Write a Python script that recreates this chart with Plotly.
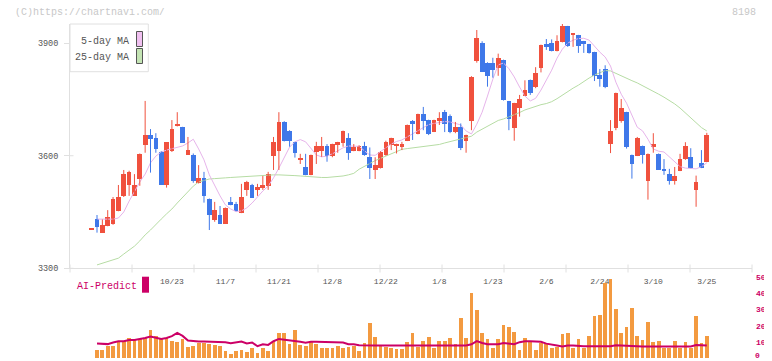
import plotly.graph_objects as go

# ---------------- data ----------------
date_labels = ["10/23", "11/7", "11/21", "12/8", "12/22", "1/8", "1/23", "2/6", "2/24", "3/10", "3/25"]
label_index = [15, 25, 35, 45, 55, 65, 75, 85, 95, 105, 115]
price_ticks = [3300, 3600, 3900]
volume_ticks = [10, 20, 30, 40, 50]
volume_zero_label = "0"

opens = [
    3403, 3431, 3395, 3414, 3418, 3453, 3493, 3523, 3493, 3538,
    3628, 3655, 3646, 3610, 3523, 3613, 3681, 3676, 3603, 3603,
    3528, 3540, 3485, 3430, 3442, 3419, 3477, 3471, 3448, 3509,
    3522, 3509, 3515, 3520, 3600, 3613, 3690, 3666, 3636, 3589,
    3570, 3549, 3609, 3613, 3626, 3600, 3628, 3635, 3647, 3613,
    3613, 3626, 3597, 3562, 3568, 3602, 3628, 3628, 3623, 3640,
    3692, 3658, 3711, 3695, 3664, 3692, 3716, 3705, 3664, 3677,
    3640, 3693, 3853, 3900, 3848, 3848, 3834, 3855, 3745, 3675,
    3728, 3760, 3802, 3784, 3834, 3897, 3900, 3879, 3903, 3945,
    3922, 3921, 3905, 3897, 3876, 3815, 3831, 3631, 3674, 3693,
    3716, 3602, 3600, 3626, 3533, 3623, 3605, 3565, 3552, 3533,
    3560, 3590, 3597, 3509, 3581, 3584,
]
highs = [
    3406, 3442, 3430, 3455, 3490, 3522, 3562, 3560, 3551, 3606,
    3746, 3671, 3660, 3612, 3636, 3695, 3716, 3677, 3650, 3606,
    3575, 3557, 3486, 3477, 3466, 3462, 3490, 3477, 3525, 3533,
    3525, 3525, 3546, 3557, 3650, 3716, 3692, 3668, 3637, 3605,
    3605, 3603, 3637, 3650, 3631, 3632, 3637, 3667, 3660, 3631,
    3628, 3637, 3622, 3596, 3612, 3640, 3648, 3632, 3637, 3683,
    3695, 3712, 3730, 3696, 3696, 3716, 3722, 3710, 3690, 3686,
    3656, 3812, 3935, 3905, 3849, 3861, 3872, 3856, 3746, 3741,
    3762, 3801, 3803, 3836, 3896, 3911, 3910, 3921, 3951, 3946,
    3927, 3922, 3906, 3898, 3877, 3831, 3841, 3695, 3768, 3751,
    3717, 3603, 3650, 3627, 3606, 3660, 3606, 3591, 3565, 3570,
    3605, 3636, 3620, 3547, 3615, 3661,
]
lows = [
    3403, 3395, 3395, 3412, 3416, 3452, 3490, 3493, 3493, 3520,
    3608, 3555, 3608, 3523, 3515, 3610, 3678, 3635, 3602, 3528,
    3526, 3475, 3402, 3424, 3418, 3418, 3468, 3452, 3447, 3493,
    3488, 3493, 3509, 3509, 3562, 3562, 3638, 3624, 3595, 3578,
    3548, 3548, 3578, 3597, 3584, 3596, 3608, 3624, 3589, 3612,
    3612, 3600, 3538, 3538, 3566, 3600, 3615, 3606, 3615, 3639,
    3642, 3657, 3668, 3655, 3663, 3682, 3663, 3660, 3660, 3615,
    3608, 3668, 3848, 3823, 3784, 3808, 3813, 3747, 3668, 3640,
    3704, 3759, 3762, 3780, 3822, 3882, 3878, 3878, 3902, 3890,
    3890, 3874, 3874, 3872, 3799, 3784, 3780, 3607, 3668, 3688,
    3619, 3539, 3599, 3579, 3483, 3608, 3562, 3549, 3523, 3523,
    3559, 3589, 3567, 3464, 3567, 3583,
]
closes = [
    3406, 3409, 3415, 3437, 3485, 3490, 3551, 3557, 3522, 3604,
    3655, 3645, 3618, 3523, 3636, 3671, 3684, 3635, 3615, 3533,
    3540, 3493, 3443, 3455, 3419, 3461, 3470, 3453, 3490, 3530,
    3488, 3517, 3522, 3551, 3637, 3690, 3640, 3640, 3607, 3592,
    3549, 3602, 3626, 3626, 3600, 3631, 3636, 3666, 3608, 3624,
    3626, 3602, 3568, 3575, 3610, 3636, 3647, 3631, 3631, 3682,
    3685, 3711, 3692, 3658, 3695, 3700, 3685, 3664, 3676, 3620,
    3655, 3810, 3915, 3824, 3813, 3828, 3860, 3748, 3698, 3740,
    3751, 3775, 3768, 3820, 3895, 3890, 3879, 3905, 3945, 3892,
    3926, 3892, 3897, 3874, 3812, 3805, 3784, 3666, 3767, 3727,
    3623, 3579, 3647, 3603, 3605, 3631, 3563, 3560, 3533, 3547,
    3591, 3626, 3568, 3530, 3568, 3655,
]
ma5 = [
    None, 3431, 3431, 3431, 3431, 3434, 3450, 3479, 3506, 3530,
    3551, 3581, 3599, 3610, 3615, 3619, 3622, 3626, 3634, 3644,
    3618, 3589, 3549, 3519, 3493, 3469, 3458, 3451, 3453, 3461,
    3474, 3490, 3506, 3519, 3541, 3567, 3597, 3623, 3637, 3643,
    3637, 3618, 3602, 3597, 3599, 3605, 3613, 3621, 3626, 3626,
    3625, 3613, 3602, 3601, 3610, 3621, 3631, 3638, 3642, 3650,
    3659, 3668, 3676, 3683, 3686, 3688, 3691, 3690, 3687, 3682,
    3666, 3658, 3684, 3716, 3759, 3804, 3842, 3847, 3832, 3810,
    3783, 3759, 3746, 3753, 3775, 3802, 3828, 3860, 3884, 3900,
    3908, 3912, 3913, 3908, 3892, 3876, 3863, 3839, 3796, 3764,
    3740, 3706, 3676, 3666, 3644, 3618, 3612, 3610, 3597, 3583,
    3571, 3567, 3566, 3565, 3571, 3581,
]
ma25 = [
    None, 3309, 3313, 3317, 3322, 3327, 3338, 3349, 3359, 3373,
    3389, 3402, 3418, 3431, 3445, 3458, 3474, 3490, 3506, 3519,
    3530, 3535, 3538, 3539, 3541, 3541, 3542, 3543, 3545, 3546,
    3547, 3547, 3549, 3549, 3549, 3549, 3549, 3549, 3547, 3546,
    3545, 3543, 3542, 3542, 3542, 3543, 3545, 3546, 3549, 3553,
    3564, 3572, 3580, 3587, 3593, 3599, 3606, 3613, 3617, 3619,
    3621, 3622, 3623, 3625, 3627, 3630, 3634, 3638, 3642, 3646,
    3648, 3652, 3663, 3671, 3679, 3687, 3694, 3698, 3703, 3708,
    3715, 3722, 3727, 3732, 3736, 3739, 3744, 3752, 3762, 3771,
    3780, 3788, 3798, 3807, 3815, 3822, 3827, 3826, 3819, 3814,
    3807, 3800, 3794, 3787, 3779, 3771, 3764, 3756, 3748, 3738,
    3727, 3714, 3700, 3687, 3675, 3666,
]
# volume panel: candles 1 .. 115
volume = [
    4.8, 4.8, 7.5, 7.0, 10.0, 10.6, 12.5, 11.0, 11.4, 12.5,
    17.2, 13.5, 11.8, 12.5, 10.6, 10.0, 11.4, 6.6, 7.3, 9.0,
    9.0, 8.3, 7.8, 7.3, 4.4, 2.5, 4.2, 4.8, 3.7, 6.0,
    3.1, 6.0, 4.4, 10.6, 15.4, 15.4, 8.7, 17.2, 7.8, 7.0,
    10.6, 8.5, 6.0, 6.0, 6.0, 7.3, 6.0, 6.8, 7.0, 4.4,
    9.0, 21.6, 12.7, 7.0, 6.6, 6.0, 5.4, 5.4, 9.8, 15.4,
    6.6, 10.6, 12.7, 6.0, 10.6, 10.6, 12.5, 8.5, 24.7, 12.5,
    40.3, 29.7, 15.4, 11.8, 6.0, 11.8, 20.3, 19.1, 16.0, 4.8,
    12.5, 10.6, 4.8, 9.0, 9.0, 6.0, 6.6, 14.8, 15.4, 6.0,
    11.8, 6.0, 13.5, 25.9, 26.5, 46.5, 49.0, 30.3, 15.4, 19.1,
    30.9, 13.5, 11.0, 22.2, 9.8, 10.6, 6.0, 6.0, 10.6, 6.0,
    9.8, 6.0, 25.9, 9.0, 13.5,
]
ai_predict = [
    9.0, 9.0, 8.6, 9.6, 10.4, 10.4, 11.2, 11.2, 11.6, 12.4,
    13.3, 12.7, 11.8, 12.4, 13.5, 15.5, 13.7, 10.8, 10.4, 10.2,
    10.2, 10.2, 10.2, 10.2, 9.8, 9.2, 9.6, 10.2, 9.0, 9.6,
    7.3, 8.5, 8.1, 10.4, 11.8, 11.4, 11.2, 10.8, 10.0, 9.4,
    10.0, 10.0, 10.0, 9.6, 10.0, 10.0, 9.6, 8.5, 8.5, 7.9,
    7.7, 7.7, 7.7, 7.7, 7.7, 7.7, 7.7, 7.7, 7.7, 7.7,
    7.4, 7.3, 7.3, 7.3, 7.3, 7.3, 7.3, 7.3, 7.3, 7.7,
    8.5, 10.5, 9.3, 8.5, 8.5, 8.5, 9.3, 8.9, 8.5, 9.8,
    10.4, 10.4, 10.4, 10.0, 8.9, 8.1, 7.7, 7.1, 7.7, 7.7,
    7.3, 7.3, 7.3, 7.3, 7.3, 7.3, 7.3, 7.9, 7.7, 7.7,
    7.1, 7.1, 7.1, 7.1, 7.1, 7.1, 7.1, 7.1, 7.1, 7.1,
    7.1, 7.1, 8.1, 7.7, 7.7,
]

# ---------------- styling ----------------
RED = "#f0513e"
BLUE = "#3f78e9"
PINK = "#e6b4ea"
GREEN = "#b6dca4"
CRIMSON = "#cc0066"
ORANGE = "#f39a40"
AXIS = "#e0e0e0"
MONO = "Liberation Mono, DejaVu Sans Mono, monospace"

# the page body has an 8px margin, so the figure is drawn 8px in from the corner
OFF = 8
W, H = 772 - OFF, 361 - OFF
# plot area in reference-page pixels: x 70..752, y 24..358
L_PX, R_PX, T_PX, B_PX = 70, 752, 24, 358
ML, MT = L_PX - OFF, T_PX - OFF
MR, MB = W - (R_PX - OFF), H - (B_PX - OFF)
PW, PH = R_PX - L_PX, B_PX - T_PX


def px(x):
    return (x - L_PX) / PW


def py(y):
    return (B_PX - y) / PH


n = len(closes)
idx = list(range(n))
up = [i for i in idx if closes[i] >= opens[i]]
dn = [i for i in idx if closes[i] < opens[i]]

fig = go.Figure()

# moving averages (under the candles)
fig.add_trace(go.Scatter(x=idx, y=ma25, mode="lines", line=dict(color=GREEN, width=1),
                         xaxis="x", yaxis="y", hoverinfo="skip"))
fig.add_trace(go.Scatter(x=idx, y=ma5, mode="lines", line=dict(color=PINK, width=1),
                         xaxis="x", yaxis="y", hoverinfo="skip"))


def wick(ids):
    xs, ys = [], []
    for i in ids:
        xs += [i, i, None]
        ys += [lows[i], highs[i], None]
    return xs, ys


for ids, col in ((up, RED), (dn, BLUE)):
    wx, wy = wick(ids)
    fig.add_trace(go.Scatter(x=wx, y=wy, mode="lines", line=dict(color=col, width=1),
                             xaxis="x", yaxis="y", hoverinfo="skip"))

fig.add_trace(go.Bar(x=up, y=[closes[i] - opens[i] for i in up], base=[opens[i] for i in up],
                     width=0.88, marker=dict(color=RED, line=dict(width=0)), xaxis="x", yaxis="y"))
fig.add_trace(go.Bar(x=dn, y=[opens[i] - closes[i] for i in dn], base=[closes[i] for i in dn],
                     width=0.88, marker=dict(color=BLUE, line=dict(width=0)), xaxis="x", yaxis="y"))

vx = list(range(1, 1 + len(volume)))
fig.add_trace(go.Bar(x=vx, y=volume, width=0.7, marker=dict(color=ORANGE, line=dict(width=0)),
                     xaxis="x2", yaxis="y2"))
fig.add_trace(go.Scatter(x=vx, y=ai_predict, mode="lines", line=dict(color=CRIMSON, width=2),
                         xaxis="x2", yaxis="y2", hoverinfo="skip"))

xr = [-4.05, 123.45]
shapes = []
# x-axis tick marks crossing the axis line
for k in range(12):
    shapes.append(dict(type="line", xref="x domain", yref="paper", x0=k / 11, x1=k / 11,
                       y0=py(264.5), y1=py(272.5), line=dict(color=AXIS, width=1)))
# inner halves of the price ticks
for v in price_ticks:
    shapes.append(dict(type="line", xref="paper", yref="y", x0=0, x1=px(73.5), y0=v, y1=v,
                       line=dict(color=AXIS, width=1)))
# legend box and swatches
shapes.append(dict(type="rect", xref="paper", yref="paper", x0=px(70), x1=px(148.3),
                   y0=py(71.7), y1=py(24), line=dict(color=AXIS, width=1), fillcolor="white", layer="above"))
shapes.append(dict(type="rect", xref="paper", yref="paper", x0=px(136.5), x1=px(142.5),
                   y0=py(46.5), y1=py(31.5), line=dict(color="#555555", width=1), fillcolor="#f0c0f0", layer="above"))
shapes.append(dict(type="rect", xref="paper", yref="paper", x0=px(136.5), x1=px(142.5),
                   y0=py(63.5), y1=py(48.5), line=dict(color="#555555", width=1), fillcolor="#c4e4b4", layer="above"))
# AI-Predict swatch
shapes.append(dict(type="rect", xref="paper", yref="paper", x0=px(142), x1=px(149),
                   y0=py(292.7), y1=py(276.7), line=dict(width=0), fillcolor=CRIMSON))

annotations = [
    dict(text="(C)https://chartnavi.com/", x=px(13), y=py(12.5), xref="paper", yref="paper",
         xanchor="left", yanchor="middle", showarrow=False, font=dict(family=MONO, size=10, color="#c8c8c8")),
    dict(text="8198", x=px(758), y=py(12.5), xref="paper", yref="paper",
         xanchor="right", yanchor="middle", showarrow=False, font=dict(family=MONO, size=10, color="#c8c8c8")),
    dict(text="5-day MA", x=px(130.5), y=py(41), xref="paper", yref="paper",
         xanchor="right", yanchor="middle", showarrow=False, font=dict(family=MONO, size=10, color="#555555")),
    dict(text="25-day MA", x=px(130.5), y=py(57.5), xref="paper", yref="paper",
         xanchor="right", yanchor="middle", showarrow=False, font=dict(family=MONO, size=10, color="#555555")),
    dict(text="AI-Predict", x=px(74.5), y=py(286), xref="paper", yref="paper",
         xanchor="left", yanchor="middle", showarrow=False, font=dict(family=MONO, size=10, color=CRIMSON)),
    # the zero label of the volume axis, lifted a little so it stays inside the page
    dict(text=volume_zero_label, x=px(754), y=py(355), xref="paper", yref="paper",
         xanchor="left", yanchor="middle", showarrow=False, borderpad=0,
         font=dict(family=MONO, size=8, color=CRIMSON, weight="bold")),
]

fig.update_layout(
    width=W, height=H,
    margin=dict(l=ML, r=MR, t=MT, b=MB, pad=0, autoexpand=False),
    paper_bgcolor="white", plot_bgcolor="white",
    showlegend=False, barmode="overlay", bargap=0,
    xaxis=dict(domain=[0, 1], range=xr, anchor="y", tickmode="array", tickvals=label_index,
               ticktext=date_labels, ticks="", showline=True, linecolor=AXIS, linewidth=1,
               showgrid=False, zeroline=False, ticklabelstandoff=5, automargin=False,
               tickfont=dict(family=MONO, size=8, color="#555555")),
    yaxis=dict(domain=[py(268.3), 1], range=[3300, 3951], anchor="x", tickmode="array",
               tickvals=price_ticks, ticks="outside", ticklen=5, tickcolor=AXIS, tickwidth=1,
               showline=True, linecolor=AXIS, linewidth=1, showgrid=False, zeroline=False,
               ticklabelstandoff=4, automargin=False,
               tickfont=dict(family=MONO, size=8.5, color="#555555")),
    xaxis2=dict(domain=[0, 1], range=xr, anchor="y2", matches="x", visible=False, automargin=False),
    yaxis2=dict(domain=[0, py(277.3)], range=[0, 50], anchor="x2", side="right", tickmode="array",
                tickvals=volume_ticks, ticks="", showline=False, showgrid=False, zeroline=False,
                ticklabelstandoff=3, automargin=False, ticklabeloverflow="allow",
                tickfont=dict(family=MONO, size=8, color=CRIMSON, weight="bold")),
    shapes=shapes,
    annotations=annotations,
)

fig.write_html("out.html")
